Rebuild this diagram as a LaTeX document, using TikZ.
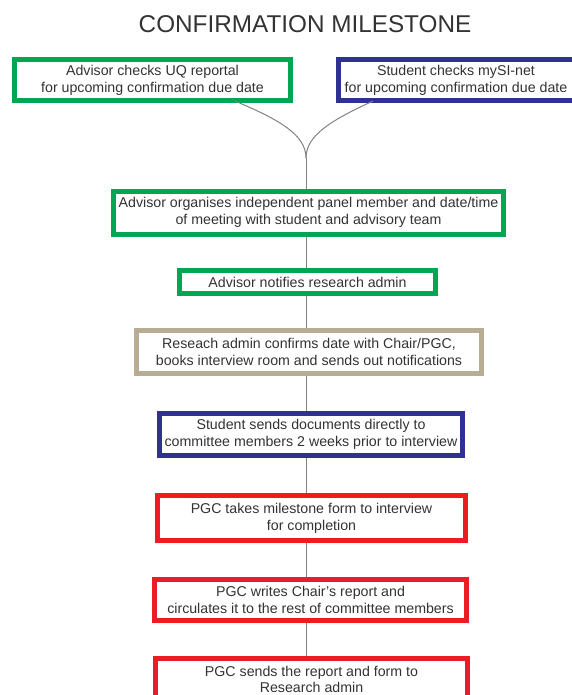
\documentclass[tikz,border=0pt]{standalone}
\usepackage{fontspec}
\setmainfont{Liberation Sans}
\definecolor{bgreen}{RGB}{0,166,81}
\definecolor{bblue}{RGB}{46,49,146}
\definecolor{btan}{RGB}{184,173,146}
\definecolor{bred}{RGB}{237,28,36}
\definecolor{lgray}{RGB}{130,130,130}
\begin{document}
\begin{tikzpicture}[x=1bp,y=-1bp,
  box/.style={draw, line width=5bp, fill=white, inner sep=0pt, align=center,
    font=\fontsize{14.2bp}{17bp}\selectfont, text=black!80},
  conn/.style={draw=lgray, line width=1bp}]
\useasboundingbox (0,0) rectangle (572,695);
\clip (0,0) rectangle (572,695);
\node[font=\fontsize{24.3bp}{28bp}\selectfont, text=black!80] (title) at (305,24) {CONFIRMATION MILESTONE};
\node[box, draw=bgreen, minimum width=276bp, minimum height=41bp] (b1) at (152.5,80) {Advisor checks UQ reportal\\ for upcoming confirmation due date};
\node[box, draw=bblue, minimum width=236bp, minimum height=41bp] (b2) at (456,80) {Student checks mySI-net\\for upcoming confirmation due date};
\node[box, draw=bgreen, minimum width=390bp, minimum height=43bp] (b3) at (308.5,212.5) {Advisor organises independent panel member and date/time\\of meeting with student and advisory team};
\node[box, draw=bgreen, minimum width=256bp, minimum height=23bp] (b4) at (307.5,282) {Advisor notifies research admin};
\node[box, draw=btan, minimum width=345bp, minimum height=43bp] (b5) at (309,351.5) {Reseach admin confirms date with Chair/PGC,\\books interview room and sends out notifications};
\node[box, draw=bblue, minimum width=303bp, minimum height=42bp] (b6) at (311,434) {Student sends documents directly to\\committee members 2 weeks prior to interview};
\node[box, draw=bred, minimum width=308bp, minimum height=45bp] (b7) at (311.5,518) {PGC takes milestone form to interview\\for completion};
\node[box, draw=bred, minimum width=312bp, minimum height=41bp] (b8) at (310.5,599.5) {PGC writes Chair’s report and\\circulates it to the rest of committee members};
\node[box, draw=bred, minimum width=312bp, minimum height=43bp, font=\fontsize{14.2bp}{16bp}\selectfont] (b9) at (311.5,679.5) {PGC sends the report and form to\\Research admin};
\coordinate (j) at (306,158);
\coordinate (l1) at (235,101);
\coordinate (r1) at (373,101);
\draw[conn] (l1) .. controls (280,120) and (306,135) .. (j);
\draw[conn] (r1) .. controls (332,120) and (306,135) .. (j);
\draw[conn] (j) -- (j |- b3.north);
\draw[conn] (b3.south -| j) -- (b4.north -| j);
\draw[conn] (b4.south -| j) -- (b5.north -| j);
\draw[conn] (b5.south -| j) -- (b6.north -| j);
\draw[conn] (b6.south -| j) -- (b7.north -| j);
\draw[conn] (b7.south -| j) -- (b8.north -| j);
\draw[conn] (b8.south -| j) -- (b9.north -| j);
\end{tikzpicture}
\end{document}
